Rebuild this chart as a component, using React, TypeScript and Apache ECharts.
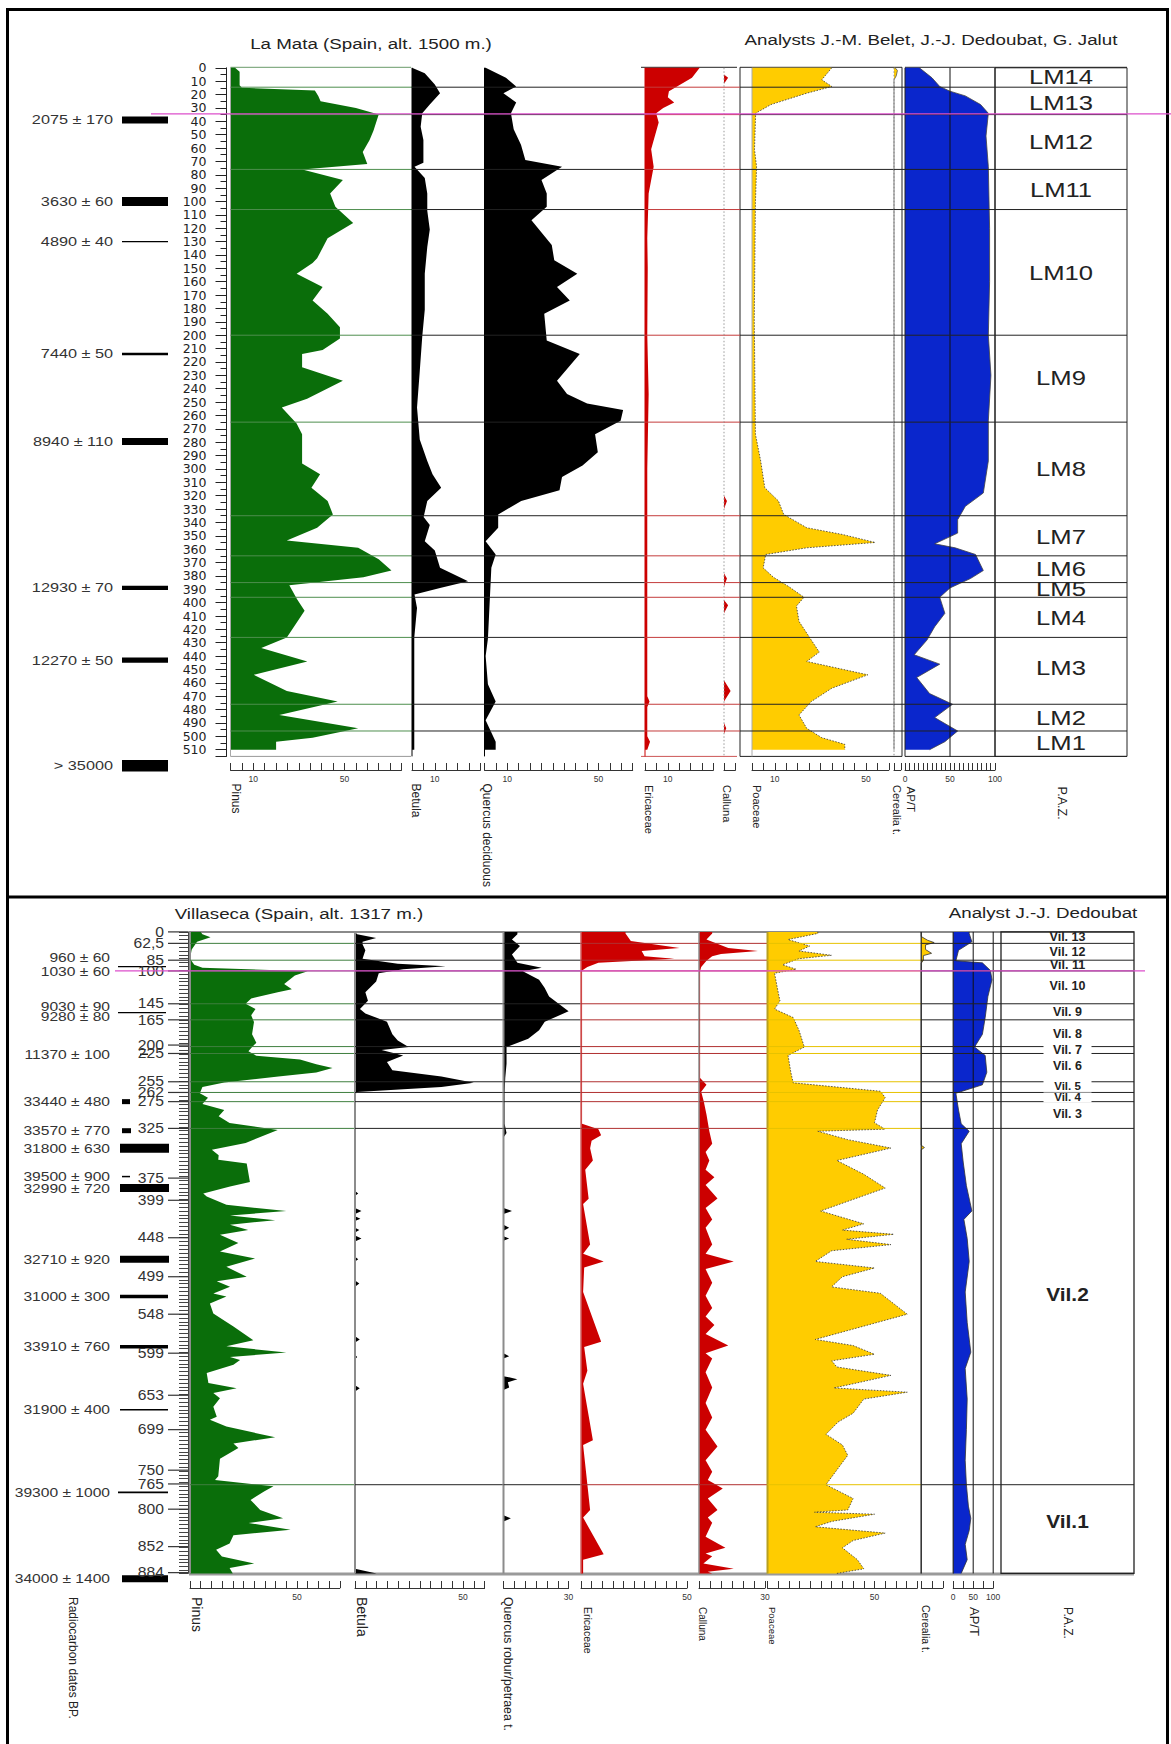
import React, { useEffect, useRef } from 'react';
import * as echarts from 'echarts';

const W = 1171;
const H = 1744;

// ================= La Mata (upper diagram) — depth in cm, values in % =================
const lmZoneNames = ['LM14', 'LM13', 'LM12', 'LM11', 'LM10', 'LM9', 'LM8', 'LM7', 'LM6', 'LM5', 'LM4', 'LM3', 'LM2', 'LM1'];
const lmZoneBounds = [0, 14.5, 35, 76, 106, 200, 265, 335, 365, 385, 396, 426, 476, 496, 515];
const lmZoneLabelDepth = [7, 26, 55.5, 91, 153, 232, 300, 351, 375, 390, 411, 449, 486, 505];
const lmDateLabels = ['2075 ± 170', '3630 ± 60', '4890 ± 40', '7440 ± 50', '8940 ± 110', '12930 ± 70', '12270 ± 50', '> 35000'];
const lmDateDepths = [39, 100, 130, 214, 279.5, 389, 443, 522];
const lmMagentaDepth = 34.5;

const lmPinus = [[0, 2], [3, 4], [13, 4], [15, 5], [17, 37], [21, 38.5], [25, 39.5], [30, 55], [35, 65], [47, 62.7], [54, 61], [63, 58], [72, 60], [76, 31.5], [84, 49.3], [94, 43.7], [104, 46], [116, 53.8], [127.5, 42.6], [142.5, 38], [146, 36], [154, 29], [164, 40.4], [174, 36], [184, 42.6], [194, 48], [202.5, 48], [211, 40.4], [214, 31.4], [224, 31.4], [234, 49.3], [247.5, 33.6], [254, 22.5], [266, 29], [274, 31.4], [296, 31.4], [304, 39.3], [314, 35.5], [324, 42.6], [334, 44.9], [344, 38], [353.5, 24.7], [359, 56], [367.5, 65], [376, 70.6], [381, 58.3], [387, 25.8], [397.5, 29.2], [406, 32.5], [426, 24.7], [434, 13.5], [444, 33.7], [454, 10.2], [466, 24.7], [474, 47], [484, 21.4], [494, 56], [501, 36], [504, 20], [510, 20]];
const lmBetula = [[0, 0], [4, 5.6], [12.5, 10], [19, 12.3], [27.5, 7.8], [34, 4.5], [44, 3.8], [54, 5], [71, 5], [74, 1.1], [82.5, 5.6], [94, 6.7], [107, 6.7], [121, 7.8], [134, 6.7], [154, 5.6], [181, 5.6], [201, 4.5], [227, 3.4], [254, 2.2], [278, 3.4], [294, 6.7], [304, 9], [314, 12.8], [324, 6.7], [336, 5.1], [342, 7.8], [354, 5.6], [361, 10], [374, 12.3], [384, 24.6], [389, 12.3], [394, 1.1], [404, 2.2], [426, 1], [460, 1], [510, 1]];
const lmQuercus = [[0, 0.5], [7.5, 9.4], [14, 13.9], [19, 8.3], [26, 13.9], [34, 11.6], [46, 12.8], [57.5, 16], [69, 17.9], [74, 34], [84, 25], [94, 27.3], [104, 27.3], [114, 20.6], [132.5, 29.5], [144, 30.6], [154, 40.7], [164, 31.8], [174, 37.4], [184, 26.2], [204, 27.3], [214, 41.8], [234, 31.8], [244, 36.2], [251, 45], [256, 60.8], [264, 59.7], [274, 48.5], [287.5, 49.7], [297.5, 43], [306, 34], [316, 32.9], [324, 16.1], [334, 6], [344, 6], [354, 0.5], [364, 4.9], [374, 3], [427, 1.5], [440, 0.5], [461, 1.5], [474, 4.9], [488, 0.5], [504, 4.9], [510, 4.9]];
const lmEricaceae = [[0, 24], [7.5, 20.6], [17.5, 10.5], [22, 10], [26, 12.8], [30, 8], [34, 4.9], [41, 6], [61, 2.7], [74, 3.8], [94, 1.6], [127.5, 1], [150, 1.2], [200, 1], [244, 1.6], [300, 1], [384, 1], [470, 1], [474, 2], [478, 1], [500, 1], [504, 2.2], [510, 1]];
const lmCalluna = [[0, 0], [5, 0], [7.5, 1.8], [12, 0], [320, 0], [324, 1.3], [330, 0], [378, 0], [382, 1.3], [388, 0], [398, 0], [402, 1.8], [408, 0], [458, 0], [466, 2.9], [474, 0], [490, 0], [494, 1], [498, 0], [510, 0]];
const lmPoaceae = [[0, 35], [9, 30.6], [14, 35], [19, 24], [27.5, 8.3], [34, 1.6], [61, 1.1], [74, 2], [101, 1.5], [188, 1], [274, 1.5], [294, 3.8], [314, 5.6], [324, 11.6], [334, 13.9], [344, 24], [349, 39.6], [355, 54], [359, 24], [364, 6], [374, 4.9], [381, 9.4], [388, 16.1], [396, 22.8], [402.5, 19.5], [414, 20.6], [428, 26], [437, 29.5], [444, 24], [454, 50.8], [464, 35], [474, 26], [484, 20.6], [494, 24], [501, 30.6], [506, 40.7], [510, 40.7]];
const lmCerealia = [[0, 0.5], [2, 1.5], [6, 1], [9, 0], [510, 0]];
const lmApt = [[0, 16], [7.5, 30], [14, 38.6], [17.5, 50], [21, 67], [27.5, 84], [34, 92.6], [51, 90], [74, 92.6], [120, 94], [160, 94], [200, 92.6], [230, 95.5], [264, 92.6], [294, 92.6], [318, 87], [328, 67], [338, 58.5], [348, 58.5], [356, 33], [359, 55.7], [364, 78.4], [376, 87], [382, 72.7], [389, 50], [396, 38.6], [408, 44.3], [418, 33], [428, 24.4], [439, 10.2], [446, 38.6], [456, 13], [468, 27.3], [476, 52.8], [486, 33], [496, 58.5], [504, 44.3], [510, 27.3]];

const lmPinusTicks = [10, 50];
const lmBetulaTicks = [10];
const lmQuercusTicks = [10, 50];
const lmEricaceaeTicks = [10];
const lmCallunaTicks: number[] = [];
const lmPoaceaeTicks = [10, 50];
const lmCerealiaTicks: number[] = [];
const lmAptTicks = [0, 50, 100];

// ================= Villaseca (lower diagram) — diagram depth scale =================
const vilZoneNames = ['Vil. 13', 'Vil. 12', 'Vil. 11', 'Vil. 10', 'Vil. 9', 'Vil. 8', 'Vil. 7', 'Vil. 6', 'Vil. 5', 'Vil. 4', 'Vil. 3', 'Vil.2', 'Vil.1'];
const vilZoneBounds = [49, 64, 86, 100, 143, 164, 199, 208, 245, 259, 271, 306, 772, 888];
const vilZoneLabelPos = [56.3, 75.3, 92.3, 119.7, 153.8, 182.5, 203.4, 224.4, 250, 265.5, 287.2, 523, 819.5];
const vilDepthLabels = ['0', '62,5', '85', '100', '145', '165', '200', '225', '255', '262', '275', '325', '375', '399', '448', '499', '548', '599', '653', '699', '750', '765', '800', '852', '884'];
const vilDepthPos = [49, 64, 86, 100, 143, 164, 197, 208, 245, 259, 271, 306, 371, 400, 449, 500, 549, 600, 655, 700, 753, 771, 804, 853, 887];
const vilDateLabels = ['960 ± 60', '1030 ± 60', '9030 ± 90', '9280 ± 80', '11370 ± 100', '33440 ± 480', '33570 ± 770', '31800 ± 630', '39500 ± 900', '32990 ± 720', '32710 ± 920', '31000 ± 300', '33910 ± 760', '31900 ± 400', '39300 ± 1000', '34000 ± 1400'];
const vilDatePos = [83, 101.4, 146.8, 159.9, 209, 271, 309, 332, 369, 384, 477, 526, 591.5, 674, 782, 895];
const vilDateRules = [94.5, 154.7];
const vilMagentaPos = 100;

const vilPinus = [[49, 5], [52, 5.8], [56, 9.6], [62, 3.3], [72, 0.8], [84, 0], [92, 2], [96, 5.8], [100.5, 55], [106, 49], [117, 44], [124, 47.6], [128, 41], [136, 28.6], [143, 26], [150, 30.6], [158, 28.6], [167, 29.9], [183, 29], [194, 31], [201, 28.6], [205, 27.3], [211, 31], [216, 51.4], [222, 59], [227, 66.6], [233, 59], [238, 41.3], [246, 16], [252, 5.8], [260, 4.6], [266, 8.4], [274, 5.8], [282, 16], [290, 13.4], [299, 18.5], [308, 41], [325, 26], [334, 10.2], [341, 13.4], [347, 13.2], [352, 26.5], [376, 28], [382, 18.7], [391, 6.2], [395, 7.8], [406, 17], [414, 45], [420, 18.7], [426, 39.8], [432, 18.7], [439, 27.2], [445, 14], [456, 22.6], [467, 14], [476, 30.4], [487, 17], [500, 26.5], [506, 12.5], [513, 18.7], [522, 10.9], [526, 17], [535, 9.3], [548, 10.9], [565, 20.3], [583, 29.6], [591, 17], [599, 45], [605, 18.7], [609, 23.4], [615, 20.3], [626, 7.8], [639, 8.6], [646, 21.8], [652, 10.9], [659, 14], [670, 10.9], [683, 12.5], [687, 9.3], [696, 17], [710, 39.8], [718, 20.3], [724, 22.6], [738, 14], [761, 13.2], [766, 11.7], [774, 39], [781, 34.6], [792, 28.3], [805, 32.8], [816, 43.5], [822, 27.4], [831, 47], [838, 20.3], [849, 18.5], [857, 12.2], [866, 14.9], [875, 30], [881, 18.5], [888, 20]];
const vilBetula = [[49, 0], [52, 1], [57, 9.8], [62, 3.5], [65, 3.5], [73, 4.8], [84, 3.5], [90.6, 19.8], [94, 42], [97.8, 22.3], [103, 11], [114, 9.8], [128, 4.8], [139, 6], [150, 2.3], [155.6, 4.8], [166.6, 14.8], [183, 17.3], [191, 19.8], [199.6, 24.8], [203.5, 12.3], [210.6, 22.3], [219, 14.8], [230, 17.3], [238, 40], [246.4, 55], [252, 40], [258.5, 1], [262, 0], [388, 0], [391, 1.5], [394, 0], [410, 0], [414, 3], [418, 0], [421, 0], [424, 2.5], [427, 0], [436, 0], [439, 2], [442, 0], [446, 0], [450, 3], [454, 0], [474, 0], [477, 1.5], [480, 0], [505, 0], [509, 2], [513, 0], [578, 0], [582, 2.2], [586, 0], [602, 0], [605, 1], [608, 0], [642, 0], [646, 2.2], [650, 0], [882, 0], [888, 10]];
const vilQuercus = [[49, 6.4], [52, 6.4], [59, 3.9], [67.5, 7.6], [78.5, 3.9], [89.5, 6.4], [96, 17.6], [100.5, 8.9], [111.5, 16.4], [122.5, 19], [133.6, 21], [152.8, 30], [166.6, 19], [177.6, 16.4], [188.6, 11.4], [199.6, 1.4], [221.6, 1.4], [240, 0.8], [260, 0.5], [300, 0.5], [312, 1.4], [318, 0], [410, 0], [414, 3.9], [418, 0], [432, 0], [436, 2.6], [440, 0], [447, 0], [450, 2.6], [453, 0], [600, 0], [604, 2.6], [607, 0], [630, 0], [634, 6.4], [638, 2], [645, 2.6], [648, 0], [812, 0], [816, 3.4], [820, 0], [888, 0]];
const vilEricaceae = [[49, 21], [51, 21], [61, 23.5], [70, 46.5], [74, 28.6], [81, 30], [84, 44], [89.5, 8.2], [95, 3], [99.4, 0.5], [300, 0.5], [307, 8.2], [315, 9.5], [322, 5], [332, 4.3], [348, 5.6], [360, 2], [398, 3.6], [405, 1], [458, 4.3], [470, 1], [480, 10.7], [488, 1.5], [520, 1], [585, 9.5], [592, 1.5], [623, 3], [640, 1], [714, 5.6], [720, 1], [805, 4.3], [815, 1], [863, 10.7], [870, 1], [888, 1]];
const vilCalluna = [[49, 6], [51, 6], [59, 3.4], [70, 13.3], [74, 26.8], [78, 10], [81, 6], [86.8, 3.4], [95, 1], [100, 0.5], [240, 0.5], [249, 3.4], [258, 1], [271, 2.2], [287.7, 3.4], [309.7, 4.7], [326, 6], [337, 3], [348, 4.7], [360, 3], [370, 7], [380, 3], [397.8, 8.4], [410, 3], [425, 6], [436, 3], [458, 6], [470, 3], [480, 15.8], [490, 3], [508, 6], [525, 3], [541, 6], [552, 3], [563, 7], [575, 3], [590, 13.3], [600, 3], [607, 6], [625, 3], [645, 6], [665, 3], [684, 6], [700, 3], [722, 8.4], [740, 3], [755, 6], [766, 4], [777, 10.8], [790, 4], [805, 8.4], [815, 4], [821.6, 6], [840, 3], [854.6, 12], [862, 3], [865.6, 6], [875, 2], [882, 15.8], [886, 4], [888, 6]];
const vilPoaceae = [[49, 23.5], [51, 23.5], [59, 9.6], [67.5, 19.7], [74, 14.7], [79.6, 29.9], [84, 14.7], [92, 7], [97.8, 13.4], [103, 3.3], [122.5, 4.6], [139, 5.8], [150, 3.3], [161, 12], [177.6, 14.7], [199.6, 17.2], [210.6, 9.6], [232.6, 10.9], [246.4, 12], [257.4, 52.7], [265.6, 55], [282, 51.4], [298.7, 50], [307, 55], [309.7, 23.5], [320.7, 37.5], [331.7, 57.7], [348, 32.4], [366, 45], [384, 55], [414, 24.8], [430.8, 45], [439, 35], [444.5, 59], [451, 37], [458, 57.7], [466, 30], [480, 22.3], [488.6, 50], [500, 35], [513.3, 29.9], [521.6, 52.7], [549, 65.3], [582, 22.3], [590, 40], [601.4, 50], [610, 30], [618, 32.4], [629, 57.7], [640, 40], [645.4, 31], [651, 65.3], [660, 45], [678.5, 40], [690, 33], [706, 27.3], [720, 35], [733.5, 37.5], [772, 27.3], [790, 40], [805, 37.5], [808, 22], [810.6, 50], [820, 30], [827, 22.3], [835.3, 55], [845, 40], [854.6, 35], [870, 42], [882, 45], [888, 32.4]];
const vilCerealia = [[49, 0], [55, 0], [60, 3], [63, 6], [66, 2], [72, 2], [77, 4.8], [80, 1], [86, 1], [90, 0], [328, 0], [331, 1.5], [334, 0], [888, 0]];
const vilApt = [[49, 40], [51, 40], [62, 46.7], [73, 13.3], [86.8, 6.7], [89.5, 73], [99.4, 93], [111.5, 97], [133.6, 86.7], [161, 80], [183, 73], [199.6, 53.3], [210.6, 80], [232.6, 84], [249, 73], [260, 6.7], [282, 13.3], [300, 20], [309.7, 40], [326, 20], [350, 25], [381, 33], [414, 46.7], [425, 26.7], [450, 35], [480, 40], [520, 30], [560, 35], [598.7, 44], [620, 30], [660, 35], [700, 33], [740, 30], [772, 33], [800, 38], [816, 44], [832, 40], [850, 30], [870, 35], [888, 20]];

const vilPinusTicks = [50];
const vilBetulaTicks = [50];
const vilQuercusTicks = [30];
const vilEricaceaeTicks = [50];
const vilCallunaTicks = [30];
const vilPoaceaeTicks = [50];
const vilCerealiaTicks: number[] = [];
const vilAptTicks = [0, 50, 100];

// ================= styles / layout =================
const FONT = '"Liberation Sans", Arial, sans-serif';
const GREEN = '#0a6e0a';
const RED = '#cc0000';
const YELLOW = '#ffcc00';
const BLUE = '#0a26cc';
const BLACK = '#000000';
const MAGENTA = '#dc4fcb';

const lmDateMarkH = [7, 9, 1.3, 2.5, 7, 4.3, 5.4, 11.4];
const vilDateMarks = [[0, 0, 0], [0, 0, 0], [0, 0, 0], [0, 0, 0], [140, 148, 1.3], [122, 130, 5], [122, 131, 5], [120, 169, 9], [122, 130, 1.5], [120, 169, 8], [120, 169, 7], [120, 168, 3.5], [120, 168, 3.5], [120, 168, 1.6], [118, 168, 1.8], [122, 168, 7]];
const vilZoneMask = [false, false, false, false, false, false, true, false, true, true, false, false, false];
const vilZoneFontSize = [12.5, 12.5, 12.5, 12.5, 12.5, 12.5, 12.5, 12.5, 11.5, 11.5, 12.5, 19, 19];

const LM_PANEL = { top: 67.8, bottom: 756.4, min: 0, max: 515, axisOffset: 13.6, bounds: lmZoneBounds };
const VIL_PANEL = { top: 931.9, bottom: 1573.4, min: 49, max: 888, axisOffset: 14.6, bounds: vilZoneBounds };

const lmCols = [
  { data: lmPinus, ticks: lmPinusTicks, left: 230.5, k: 2.28, max: 75, iv: 5, fill: GREEN, base: '#a8a8a8', zone: '#4e8e4e', extra: 11 },
  { data: lmBetula, ticks: lmBetulaTicks, left: 412, k: 2.28, max: 30, iv: 5, fill: BLACK, base: '#000', zone: '#222', extra: 4 },
  { data: lmQuercus, ticks: lmQuercusTicks, left: 484.5, k: 2.28, max: 65, iv: 5, fill: BLACK, base: '#000', zone: '#222', extra: 12 },
  { data: lmEricaceae, ticks: lmEricaceaeTicks, left: 645, k: 2.28, max: 30, iv: 5, fill: RED, base: RED, zone: '#c43c3c', extra: 10.6 },
  { data: lmCalluna, ticks: lmCallunaTicks, left: 724, k: 2.28, max: 5, iv: 5, fill: RED, base: '#999', baseDash: [1.5, 2], zone: '#c43c3c', extra: 4.6 },
  { data: lmPoaceae, ticks: lmPoaceaeTicks, left: 752, k: 2.28, max: 60, iv: 5, fill: YELLOW, outline: '#333', dash: [1.5, 1.5], base: '#aaa', zone: '#222', extra: 5.2, pre: 12 },
  { data: lmCerealia, ticks: lmCerealiaTicks, left: 894, k: 2.28, max: 3, iv: 3, fill: YELLOW, outline: '#555', base: '#888', baseDash: [1.5, 2], zone: '#222', extra: 4.2 },
  { data: lmApt, ticks: lmAptTicks, left: 905, k: 0.9, max: 100, iv: 5, fill: BLUE, outline: '#444', base: '#222', zone: '#222', extra: 0, vlines: [50, 100] },
];

const vilCols = [
  { data: vilPinus, ticks: vilPinusTicks, left: 190, k: 2.14, max: 70, iv: 5, fill: GREEN, base: '#8c8c8c', baseW: 2, zone: '#3f7f3f', extra: 15 },
  { data: vilBetula, ticks: vilBetulaTicks, left: 355, k: 2.16, max: 60, iv: 5, fill: BLACK, base: '#8c8c8c', baseW: 2, zone: '#222', extra: 18.9 },
  { data: vilQuercus, ticks: vilQuercusTicks, left: 503.5, k: 2.17, max: 30, iv: 5, fill: BLACK, base: '#8c8c8c', baseW: 2, zone: '#222', extra: 12.4 },
  { data: vilEricaceae, ticks: vilEricaceaeTicks, left: 581, k: 2.12, max: 50, iv: 5, fill: RED, base: '#d06060', baseW: 1.5, zone: '#b03030', extra: 12 },
  { data: vilCalluna, ticks: vilCallunaTicks, left: 699, k: 2.2, max: 30, iv: 5, fill: RED, base: '#8c8c8c', baseW: 1.5, zone: '#b03030', extra: 2.5 },
  { data: vilPoaceae, ticks: vilPoaceaeTicks, left: 767.5, k: 2.14, max: 70, iv: 5, fill: YELLOW, outline: '#333', dash: [1.5, 1.5], base: '#b8a020', baseW: 2, zone: '#e6c200', extra: 3.9 },
  { data: vilCerealia, ticks: vilCerealiaTicks, left: 921.2, k: 2.16, max: 10, iv: 5, fill: YELLOW, outline: '#333', base: '#222', baseW: 1.2, zone: '#222', extra: 10.4 },
  { data: vilApt, ticks: vilAptTicks, left: 953.2, k: 0.4, max: 100, iv: 25, fill: BLUE, outline: '#333', base: '#222', baseW: 1.2, zone: '#222', extra: 7.8, vlines: [50, 100] },
];

function colSeries(col: any, panel: any, xi: number, yi: number) {
  return {
    type: 'custom',
    coordinateSystem: 'cartesian2d',
    xAxisIndex: xi,
    yAxisIndex: yi,
    silent: true,
    clip: false,
    z: 2,
    data: [[0, panel.min]],
    renderItem: (params: any, api: any) => {
      const cs = params.coordSys;
      const x0 = cs.x;
      const top = cs.y;
      const bottom = cs.y + cs.height;
      const curve = col.data.map((p: number[]) => api.coord([p[1], p[0]]));
      const start = api.coord([0, col.data[0][0]]);
      const end = api.coord([0, col.data[col.data.length - 1][0]]);
      const children: any[] = [];
      children.push({ type: 'polygon', shape: { points: [start].concat(curve, [end]) }, style: { fill: col.fill } });
      if (col.outline) {
        const st: any = { fill: 'none', stroke: col.outline, lineWidth: 0.8 };
        if (col.dash) st.lineDash = col.dash;
        children.push({ type: 'polyline', shape: { points: curve }, style: st });
      }
      const bst: any = { stroke: col.base, lineWidth: col.baseW || 1 };
      if (col.baseDash) bst.lineDash = col.baseDash;
      children.push({ type: 'line', shape: { x1: x0, y1: top, x2: x0, y2: bottom }, style: bst });
      (col.vlines || []).forEach((v: number) => {
        const x = api.coord([v, panel.min])[0];
        children.push({ type: 'line', shape: { x1: x, y1: top, x2: x, y2: bottom }, style: { stroke: '#111', lineWidth: 1 } });
      });
      panel.bounds.slice(1, -1).forEach((b: number) => {
        const y = api.coord([0, b])[1];
        children.push({ type: 'line', shape: { x1: x0 - (col.pre || 0), y1: y, x2: x0 + cs.width + col.extra, y2: y }, style: { stroke: col.zone, lineWidth: 1 } });
      });
      return { type: 'group', children };
    },
  };
}

function buildOption() {
  const grid: any[] = [];
  const xAxis: any[] = [];
  const yAxis: any[] = [];
  const series: any[] = [];
  const addGrid = (g: any) => {
    grid.push({ ...g, containLabel: false, outerBoundsMode: 'none', show: false });
    return grid.length - 1;
  };
  const hiddenY = (gi: number, panel: any) => ({ gridIndex: gi, type: 'value', inverse: true, min: panel.min, max: panel.max, show: false, axisLine: { onZero: false } });

  const addColumns = (panel: any, cols: any[], depthAxis: any) => {
    cols.forEach((col, ci) => {
      const gi = addGrid({ left: col.left, top: panel.top, width: col.max * col.k, height: panel.bottom - panel.top });
      const xi = xAxis.length;
      xAxis.push({
        gridIndex: gi, type: 'value', min: 0, max: col.max, interval: col.iv, position: 'bottom', offset: panel.axisOffset,
        axisLine: { show: true, onZero: false, lineStyle: { color: '#333', width: 1 } },
        axisTick: { show: true, inside: true, length: 7, lineStyle: { color: '#333', width: 1 } },
        axisLabel: {
          show: true, margin: 4, fontSize: 8.5, color: '#333', fontFamily: FONT, showMinLabel: true, showMaxLabel: true,
          formatter: (v: number) => (col.ticks.indexOf(v) >= 0 ? String(v) : ''),
        },
        splitLine: { show: false },
      });
      const yi = yAxis.length;
      if (ci === 0) yAxis.push({ ...depthAxis, gridIndex: gi });
      else yAxis.push(hiddenY(gi, panel));
      series.push(colSeries(col, panel, xi, yi));
    });
  };

  // ---- La Mata columns with depth axis ----
  addColumns(LM_PANEL, lmCols, {
    type: 'value', inverse: true, min: 0, max: 515, interval: 10, position: 'left', offset: 4,
    axisLine: { show: true, onZero: false, lineStyle: { color: '#222', width: 1 } },
    axisTick: { show: true, length: 11, lineStyle: { color: '#222' } },
    minorTick: { show: true, splitNumber: 2, length: 6, lineStyle: { color: '#222' } },
    axisLabel: { show: true, margin: 20, fontSize: 12.5, fontFamily: '"DejaVu Sans", sans-serif', color: '#222', formatter: (v: number) => (v % 10 === 0 && v <= 510 ? String(v) : '') },
    splitLine: { show: false },
  });
  // ---- Villaseca columns with sample tick axis ----
  addColumns(VIL_PANEL, vilCols, {
    type: 'value', inverse: true, min: 49, max: 888, interval: 5, position: 'left', offset: 2,
    axisLine: { show: true, onZero: false, lineStyle: { color: '#444', width: 1 } },
    axisTick: { show: true, length: 9, lineStyle: { color: '#444' } },
    axisLabel: { show: false },
    splitLine: { show: false },
  });

  // ---- P.A.Z. boxes ----
  const addPaz = (panel: any, left: number, right: number, names: string[], bounds: number[], labelPos: number[], fontOf: (i: number) => string, scaleOf: (i: number) => number, mask: boolean[] | null, boxW: number) => {
    const gi = addGrid({ left, top: panel.top, width: right - left, height: panel.bottom - panel.top });
    const xi = xAxis.length;
    xAxis.push({ gridIndex: gi, type: 'value', min: 0, max: 1, show: false, axisLine: { onZero: false } });
    const yi = yAxis.length;
    yAxis.push(hiddenY(gi, panel));
    series.push({
      type: 'custom', coordinateSystem: 'cartesian2d', xAxisIndex: xi, yAxisIndex: yi, silent: true, clip: false, z: 3,
      data: labelPos.map((p) => [0.5, p]),
      renderItem: (params: any, api: any) => {
        const i = params.dataIndex;
        const cs = params.coordSys;
        const children: any[] = [];
        if (i === 0) {
          children.push({ type: 'rect', shape: { x: cs.x, y: cs.y, width: cs.width, height: cs.height }, style: { fill: 'none', stroke: '#222', lineWidth: boxW } });
          bounds.slice(1, -1).forEach((b) => {
            const y = api.coord([0, b])[1];
            children.push({ type: 'line', shape: { x1: cs.x, y1: y, x2: cs.x + cs.width, y2: y }, style: { stroke: '#222', lineWidth: 1 } });
          });
        }
        const c = api.coord([api.value(0), api.value(1)]);
        if (mask && mask[i]) {
          children.push({ type: 'rect', shape: { x: c[0] - 24, y: c[1] - 5, width: 48, height: 10 }, style: { fill: '#fff' } });
        }
        children.push({ type: 'text', x: c[0], y: c[1], scaleX: scaleOf(i), style: { text: names[i], textAlign: 'center', textVerticalAlign: 'middle', fill: '#222', font: fontOf(i) } });
        return { type: 'group', children };
      },
    });
  };
  addPaz(LM_PANEL, 995, 1127, lmZoneNames, lmZoneBounds, lmZoneLabelDepth, () => `21px ${FONT}`, () => 1.22, null, 1);
  addPaz(VIL_PANEL, 1001, 1134, vilZoneNames, vilZoneBounds, vilZoneLabelPos, (i) => `bold ${vilZoneFontSize[i]}px ${FONT}`, (i) => (i >= 11 ? 1.1 : 1), vilZoneMask, 1.3);

  // ---- full-width overlay grids (dates, depth labels, magenta line) ----
  const addOverlay = (panel: any) => {
    const gi = addGrid({ left: 0, top: panel.top, width: W, height: panel.bottom - panel.top });
    const xi = xAxis.length;
    xAxis.push({ gridIndex: gi, type: 'value', min: 0, max: W, show: false, axisLine: { onZero: false } });
    const yi = yAxis.length;
    yAxis.push(hiddenY(gi, panel));
    return { xi, yi };
  };
  const lmO = addOverlay(LM_PANEL);
  const vilO = addOverlay(VIL_PANEL);

  const dateSeries = (o: any, depths: number[], labels: string[], textRight: number, font: string, scaleX: number, mark: (i: number) => number[]) => ({
    type: 'custom', coordinateSystem: 'cartesian2d', xAxisIndex: o.xi, yAxisIndex: o.yi, silent: true, clip: false, z: 4,
    data: depths.map((d) => [0, d]),
    renderItem: (params: any, api: any) => {
      const i = params.dataIndex;
      const y = api.coord([0, api.value(1)])[1];
      const children: any[] = [];
      const m = mark(i);
      if (m[2] > 0) {
        const xa = api.coord([m[0], 0])[0];
        const xb = api.coord([m[1], 0])[0];
        children.push({ type: 'rect', shape: { x: xa, y: y - m[2] / 2, width: xb - xa, height: m[2] }, style: { fill: '#000' } });
      }
      if (labels[i]) {
        children.push({ type: 'text', x: api.coord([textRight, 0])[0], y, scaleX, style: { text: labels[i], textAlign: 'right', textVerticalAlign: 'middle', fill: '#333', font } });
      }
      return { type: 'group', children };
    },
  });
  series.push(dateSeries(lmO, lmDateDepths, lmDateLabels, 113, `13px ${FONT}`, 1.25, (i) => [122, 168, lmDateMarkH[i]]));
  series.push(dateSeries(vilO, vilDatePos, vilDateLabels, 110, `13px ${FONT}`, 1.2, (i) => vilDateMarks[i]));
  series.push(dateSeries(vilO, vilDateRules, vilDateRules.map(() => ''), 110, `13px ${FONT}`, 1, () => [118, 166, 1.2]));

  // Villaseca depth labels with long ticks
  series.push({
    type: 'custom', coordinateSystem: 'cartesian2d', xAxisIndex: vilO.xi, yAxisIndex: vilO.yi, silent: true, clip: false, z: 4,
    data: vilDepthPos.map((p) => [0, p]),
    renderItem: (params: any, api: any) => {
      const i = params.dataIndex;
      const y = api.coord([0, api.value(1)])[1];
      return {
        type: 'group',
        children: [
          { type: 'line', shape: { x1: api.coord([168, 0])[0], y1: y, x2: api.coord([188, 0])[0], y2: y }, style: { stroke: '#333', lineWidth: 1.2 } },
          { type: 'text', x: api.coord([164, 0])[0], y, scaleX: 1.12, style: { text: vilDepthLabels[i], textAlign: 'right', textVerticalAlign: 'middle', fill: '#333', font: `14px ${FONT}` } },
        ],
      };
    },
  });

  // magenta correlation lines
  const magenta = (o: any, depth: number, xa: number, xb: number) => ({
    type: 'custom', coordinateSystem: 'cartesian2d', xAxisIndex: o.xi, yAxisIndex: o.yi, silent: true, clip: false, z: 6,
    data: [[0, depth]],
    renderItem: (params: any, api: any) => {
      const y = api.coord([0, api.value(1)])[1];
      return { type: 'line', shape: { x1: api.coord([xa, 0])[0], y1: y, x2: api.coord([xb, 0])[0], y2: y }, style: { stroke: MAGENTA, lineWidth: 1.2 } };
    },
  });
  series.push(magenta(lmO, lmMagentaDepth, 151, 1171));
  series.push(magenta(vilO, vilMagentaPos, 115, 1145));

  // ---- static graphics: frames, titles, column names ----
  const txt = (text: string, x: number, y: number, size: number, align: string, scaleX = 1.25) => ({
    type: 'text', x, y, scaleX, style: { text, fill: '#222', font: `${size}px ${FONT}`, textAlign: align, textVerticalAlign: 'middle' },
  });
  const rot = (text: string, x: number, y: number, size: number) => ({
    type: 'text', x, y, rotation: -Math.PI / 2, style: { text, fill: '#222', font: `${size}px ${FONT}`, textAlign: 'left', textVerticalAlign: 'bottom' },
  });
  const ln = (x1: number, y1: number, x2: number, y2: number, stroke: string, w = 1) => ({
    type: 'line', shape: { x1, y1, x2, y2 }, style: { stroke, lineWidth: w },
  });

  const LT = LM_PANEL.top - 0.5;
  const LB = LM_PANEL.bottom;
  const VT = VIL_PANEL.top;
  const VB = VIL_PANEL.bottom;
  const elements: any[] = [
    { type: 'rect', shape: { x: 7.5, y: 9.5, width: 1160, height: 1760 }, style: { fill: 'none', stroke: '#000', lineWidth: 3 } },
    ln(7.5, 897, 1167.5, 897, '#000', 3),
    // La Mata frames
    ln(230.5, LT, 411, LT, '#6a9a6a'),
    ln(230.5, LB, 411, LB, '#999'),
    ln(641, LT, 737, LT, '#222'),
    ln(641, LB, 737, LB, '#c55'),
    { type: 'rect', shape: { x: 740, y: LT, width: 162, height: LB - LT }, style: { fill: 'none', stroke: '#222', lineWidth: 1 } },
    ln(905, LT, 1127, LT, '#222'),
    ln(905, LB, 1127, LB, '#222'),
    // Villaseca frames
    ln(189, VT, 1134, VT, '#8a8a8a', 2),
    ln(189, VB + 0.5, 1134, VB + 0.5, '#9a9a9a', 3),
    // titles
    txt('La Mata (Spain, alt. 1500 m.)', 371, 44.5, 15, 'center'),
    txt('Analysts J.-M. Belet, J.-J. Dedoubat, G. Jalut', 931, 40.5, 15, 'center'),
    txt('Villaseca (Spain, alt. 1317 m.)', 299, 914, 15, 'center'),
    txt('Analyst J.-J. Dedoubat', 1043, 913, 15, 'center'),
    // La Mata column names
    rot('Pinus', 229.6, 783.5, 12),
    rot('Betula', 410, 783.5, 12),
    rot('Quercus deciduous', 481, 783.5, 12),
    rot('Ericaceae', 643, 785, 11),
    rot('Calluna', 721, 785, 11),
    rot('Poaceae', 751.5, 785, 11),
    rot('Cerealia t.', 891, 785, 11),
    rot('AP/T', 905, 786.5, 11.5),
    rot('P.A.Z.', 1055, 786.5, 12.5),
    // Villaseca column names
    rot('Radiocarbon dates BP.', 67, 1597, 12),
    rot('Pinus', 190, 1597, 14),
    rot('Betula', 355, 1597, 14),
    rot('Quercus robur/petraea t.', 502, 1597, 12.3),
    rot('Ericaceae', 582, 1607, 10.5),
    rot('Calluna', 697.5, 1607, 10),
    rot('Poaceae', 767.5, 1607, 9.5),
    rot('Cerealia t.', 920.5, 1605, 10.5),
    rot('AP/T', 967.5, 1607, 13),
    rot('P.A.Z.', 1062, 1607, 12),
  ];

  return {
    animation: false,
    backgroundColor: '#ffffff',
    grid,
    xAxis,
    yAxis,
    series,
    graphic: { elements },
  };
}

export default function App() {
  const ref = useRef<HTMLDivElement>(null);
  useEffect(() => {
    if (!ref.current) return;
    const chart = echarts.init(ref.current, undefined, { renderer: 'svg' });
    chart.setOption(buildOption() as any);
    return () => chart.dispose();
  }, []);
  return <div ref={ref} style={{ position: 'absolute', left: 0, top: 0, width: W, height: H, background: '#fff' }} />;
}
